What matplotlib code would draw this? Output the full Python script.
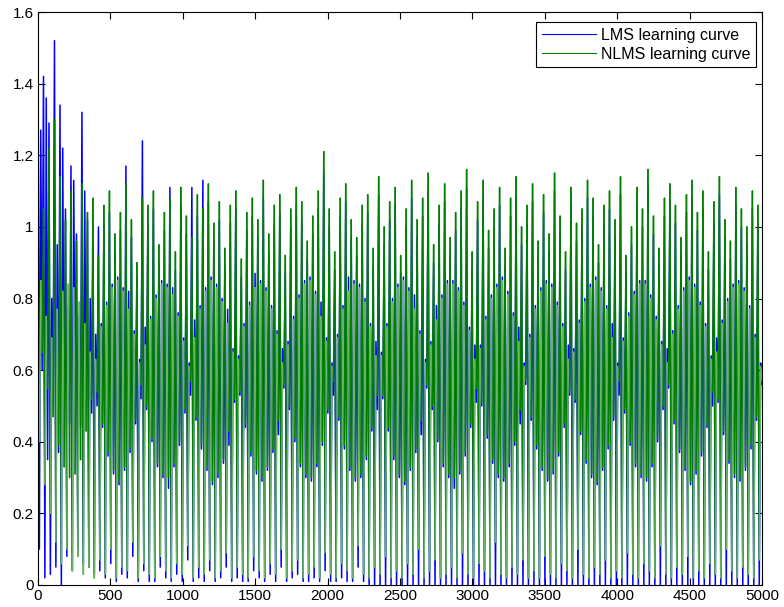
import matplotlib
matplotlib.use("Agg")
import matplotlib.pyplot as plt
import numpy as np
from matplotlib.collections import LineCollection
from matplotlib.lines import Line2D

plt.rcParams["font.family"] = ["Liberation Sans", "DejaVu Sans"]

# Learning curves stored as four interleaved vertex levels per cycle:
# high peak, low trough, inner high, inner low.
nlms_peak = [
    0.98, 1.05, 1.22, 1.30, 1.14, 1.02, 1.10, 0.96, 1.12, 1.04,
    1.08, 0.92, 1.06, 1.10, 0.98, 1.04, 1.12, 1.02, 0.90, 1.08,
    1.06, 1.10, 0.95, 1.04, 1.08, 0.93, 1.11, 1.03, 0.97, 1.09,
    1.05, 1.12, 1.01, 1.07, 0.94, 1.06, 1.10, 0.91, 1.04, 1.08,
    1.02, 1.13, 0.98, 1.06, 1.09, 0.92, 1.05, 1.11, 1.07, 0.96,
    1.03, 1.10, 1.21, 1.05, 0.93, 1.08, 1.12, 1.02, 0.97, 1.06,
    1.09, 0.94, 1.14, 1.00, 1.07, 1.11, 0.92, 1.05, 1.13, 1.02,
    1.08, 1.15, 0.95, 1.06, 1.12, 0.97, 1.04, 1.10, 1.16, 0.93,
    1.07, 1.13, 0.99, 1.05, 1.11, 0.94, 1.08, 1.14, 1.00, 1.06,
    1.12, 0.96, 1.09, 0.98, 1.15, 1.03, 0.93, 1.11, 1.01, 1.05,
    1.13, 1.08, 0.95, 1.06, 1.10, 1.02, 1.14, 0.92, 1.00, 1.11,
    1.05, 1.16, 1.03, 0.94, 1.08, 1.12, 1.06, 0.97, 1.09, 1.13,
    1.04, 1.10, 0.93, 1.07, 1.14, 1.02, 0.96, 1.11, 1.05, 1.00,
    1.10, 1.06,
]
nlms_trough = [
    0.40, 0.28, 0.20, 0.12, 0.06, 0.10, 0.04, 0.08, 0.03, 0.05,
    0.02, 0.07, 0.03, 0.10, 0.02, 0.05, 0.04, 0.12, 0.02, 0.06,
    0.03, 0.02, 0.08, 0.04, 0.02, 0.06, 0.03, 0.11, 0.02, 0.05,
    0.03, 0.07, 0.02, 0.04, 0.09, 0.02, 0.05, 0.03, 0.02, 0.08,
    0.04, 0.02, 0.06, 0.03, 0.10, 0.02, 0.04, 0.07, 0.02, 0.03,
    0.05, 0.02, 0.09, 0.03, 0.02, 0.06, 0.04, 0.02, 0.11, 0.03,
    0.02, 0.05, 0.03, 0.08, 0.02, 0.04, 0.02, 0.06, 0.03, 0.10,
    0.02, 0.04, 0.07, 0.02, 0.03, 0.05, 0.02, 0.09, 0.03, 0.02,
    0.06, 0.04, 0.02, 0.12, 0.03, 0.02, 0.05, 0.03, 0.07, 0.02,
    0.04, 0.02, 0.08, 0.03, 0.02, 0.06, 0.04, 0.02, 0.10, 0.03,
    0.02, 0.05, 0.03, 0.07, 0.02, 0.04, 0.02, 0.09, 0.03, 0.02,
    0.06, 0.04, 0.02, 0.11, 0.03, 0.02, 0.05, 0.03, 0.08, 0.02,
    0.04, 0.02, 0.06, 0.03, 0.02, 0.10, 0.04, 0.02, 0.05, 0.03,
    0.02, 0.07,
]
nlms_inner_high = [
    0.85, 0.75, 0.69, 0.77, 0.82, 0.84, 0.83, 0.79, 0.73, 0.65,
    0.63, 0.72, 0.78, 0.83, 0.85, 0.82, 0.77, 0.70, 0.62, 0.67,
    0.74, 0.80, 0.84, 0.83, 0.81, 0.75, 0.68, 0.61, 0.69, 0.77,
    0.82, 0.85, 0.83, 0.79, 0.73, 0.65, 0.63, 0.72, 0.78, 0.83,
    0.84, 0.82, 0.77, 0.70, 0.62, 0.67, 0.74, 0.80, 0.84, 0.85,
    0.81, 0.75, 0.68, 0.61, 0.69, 0.77, 0.82, 0.84, 0.83, 0.79,
    0.72, 0.64, 0.64, 0.72, 0.79, 0.83, 0.85, 0.82, 0.77, 0.70,
    0.62, 0.67, 0.74, 0.80, 0.84, 0.84, 0.82, 0.78, 0.71, 0.63,
    0.66, 0.74, 0.80, 0.83, 0.85, 0.81, 0.75, 0.68, 0.61, 0.69,
    0.77, 0.82, 0.84, 0.83, 0.78, 0.72, 0.63, 0.65, 0.73, 0.79,
    0.83, 0.85, 0.82, 0.77, 0.69, 0.61, 0.68, 0.75, 0.81, 0.84,
    0.84, 0.80, 0.74, 0.67, 0.62, 0.70, 0.77, 0.82, 0.85, 0.83,
    0.78, 0.72, 0.63, 0.65, 0.73, 0.79, 0.83, 0.84, 0.82, 0.77,
    0.69, 0.61,
]
nlms_inner_low = [
    0.65, 0.55, 0.47, 0.39, 0.33, 0.30, 0.31, 0.35, 0.43, 0.52,
    0.54, 0.45, 0.37, 0.32, 0.29, 0.33, 0.38, 0.46, 0.56, 0.50,
    0.41, 0.34, 0.31, 0.30, 0.34, 0.40, 0.49, 0.57, 0.47, 0.39,
    0.33, 0.29, 0.31, 0.35, 0.43, 0.52, 0.54, 0.45, 0.37, 0.32,
    0.30, 0.33, 0.38, 0.46, 0.56, 0.50, 0.41, 0.34, 0.31, 0.30,
    0.34, 0.40, 0.49, 0.57, 0.47, 0.39, 0.33, 0.30, 0.31, 0.36,
    0.44, 0.53, 0.53, 0.44, 0.36, 0.31, 0.29, 0.33, 0.38, 0.46,
    0.56, 0.50, 0.41, 0.34, 0.31, 0.30, 0.32, 0.37, 0.45, 0.55,
    0.51, 0.42, 0.35, 0.31, 0.30, 0.34, 0.40, 0.49, 0.57, 0.47,
    0.39, 0.33, 0.30, 0.32, 0.37, 0.45, 0.54, 0.52, 0.43, 0.35,
    0.31, 0.29, 0.33, 0.39, 0.47, 0.57, 0.49, 0.40, 0.34, 0.31,
    0.30, 0.34, 0.41, 0.50, 0.56, 0.46, 0.38, 0.33, 0.29, 0.32,
    0.37, 0.45, 0.54, 0.52, 0.43, 0.35, 0.31, 0.30, 0.33, 0.39,
    0.47, 0.57,
]

lms_peak = [
    1.54, 1.42, 1.29, 1.52, 1.34, 1.05, 1.17, 0.98, 1.32, 1.02,
    0.95, 1.00, 1.01, 1.04, 0.93, 0.99, 1.17, 0.97, 0.86, 1.24,
    1.01, 1.05, 0.90, 0.99, 1.11, 0.88, 1.06, 0.98, 1.11, 1.03,
    1.13, 1.07, 0.96, 1.02, 0.89, 1.01, 1.05, 0.86, 0.99, 1.03,
    0.97, 1.08, 0.93, 1.01, 1.04, 0.87, 1.00, 1.06, 1.02, 0.91,
    0.98, 1.05, 1.15, 1.00, 0.88, 1.03, 1.07, 0.97, 0.92, 1.01,
    1.04, 0.89, 1.09, 0.95, 1.02, 1.06, 0.87, 1.00, 1.08, 0.97,
    1.03, 1.10, 0.90, 1.01, 1.07, 0.92, 0.99, 1.05, 1.11, 0.88,
    1.02, 1.08, 0.94, 1.00, 1.06, 0.89, 1.03, 1.09, 0.95, 1.01,
    1.07, 0.91, 1.04, 0.93, 1.10, 0.98, 0.88, 1.06, 0.96, 1.00,
    1.08, 1.03, 0.90, 1.01, 1.05, 0.97, 1.09, 0.87, 0.95, 1.06,
    1.00, 1.11, 0.98, 0.89, 1.03, 1.07, 1.01, 0.92, 1.04, 1.08,
    0.99, 1.05, 0.88, 1.02, 1.09, 0.97, 0.91, 1.06, 1.00, 0.95,
    1.05, 1.01,
]
lms_trough = [
    0.10, 0.02, 0.03, 0.05, 0.00, 0.08, 0.04, 0.10, 0.06, 0.05,
    0.03, 0.04, 0.02, 0.06, 0.01, 0.03, 0.02, 0.08, 0.01, 0.04,
    0.01, 0.01, 0.05, 0.02, 0.01, 0.03, 0.01, 0.07, 0.01, 0.02,
    0.01, 0.04, 0.01, 0.02, 0.05, 0.01, 0.02, 0.01, 0.01, 0.04,
    0.02, 0.01, 0.03, 0.01, 0.05, 0.01, 0.02, 0.03, 0.01, 0.01,
    0.02, 0.01, 0.04, 0.01, 0.01, 0.02, 0.01, 0.01, 0.05, 0.01,
    0.00, 0.00, 0.00, 0.00, 0.00, 0.00, 0.00, 0.00, 0.00, 0.00,
    0.00, 0.00, 0.00, 0.00, 0.00, 0.00, 0.00, 0.00, 0.00, 0.00,
    0.00, 0.00, 0.00, 0.00, 0.00, 0.00, 0.00, 0.00, 0.00, 0.00,
    0.00, 0.00, 0.00, 0.00, 0.00, 0.00, 0.00, 0.00, 0.00, 0.00,
    0.00, 0.00, 0.00, 0.00, 0.00, 0.00, 0.00, 0.00, 0.00, 0.00,
    0.00, 0.00, 0.00, 0.00, 0.00, 0.00, 0.00, 0.00, 0.00, 0.00,
    0.00, 0.00, 0.00, 0.00, 0.00, 0.00, 0.00, 0.00, 0.00, 0.00,
    0.00, 0.00,
]
lms_inner_high = [
    1.27, 1.36, 0.80, 0.95, 1.22, 0.78, 1.13, 0.75, 1.10, 0.80,
    0.70, 0.73, 0.79, 0.84, 0.86, 0.83, 0.82, 0.71, 0.63, 0.72,
    0.75, 0.81, 0.85, 0.84, 0.83, 0.76, 0.69, 0.62, 0.74, 0.78,
    0.83, 0.86, 0.84, 0.80, 0.77, 0.66, 0.64, 0.73, 0.79, 0.87,
    0.85, 0.83, 0.78, 0.71, 0.66, 0.68, 0.75, 0.81, 0.85, 0.86,
    0.82, 0.79, 0.69, 0.62, 0.70, 0.78, 0.86, 0.85, 0.84, 0.80,
    0.73, 0.68, 0.65, 0.73, 0.80, 0.84, 0.86, 0.83, 0.81, 0.71,
    0.63, 0.68, 0.78, 0.81, 0.85, 0.85, 0.83, 0.79, 0.72, 0.67,
    0.67, 0.75, 0.81, 0.84, 0.86, 0.82, 0.76, 0.72, 0.62, 0.70,
    0.78, 0.83, 0.85, 0.84, 0.79, 0.73, 0.67, 0.66, 0.74, 0.80,
    0.84, 0.86, 0.83, 0.78, 0.73, 0.62, 0.69, 0.76, 0.82, 0.85,
    0.85, 0.81, 0.75, 0.68, 0.66, 0.71, 0.78, 0.83, 0.86, 0.84,
    0.79, 0.73, 0.64, 0.69, 0.74, 0.80, 0.84, 0.85, 0.83, 0.78,
    0.70, 0.62,
]
lms_inner_low = [
    0.60, 0.35, 0.50, 0.37, 0.42, 0.45, 0.55, 0.44, 0.50, 0.48,
    0.50, 0.44, 0.36, 0.31, 0.28, 0.32, 0.37, 0.45, 0.52, 0.49,
    0.40, 0.33, 0.30, 0.27, 0.33, 0.39, 0.48, 0.53, 0.46, 0.38,
    0.32, 0.28, 0.30, 0.34, 0.39, 0.51, 0.53, 0.44, 0.36, 0.31,
    0.29, 0.32, 0.37, 0.42, 0.55, 0.49, 0.40, 0.33, 0.30, 0.29,
    0.33, 0.39, 0.48, 0.53, 0.46, 0.38, 0.32, 0.29, 0.30, 0.35,
    0.43, 0.49, 0.52, 0.43, 0.35, 0.30, 0.28, 0.32, 0.37, 0.42,
    0.55, 0.49, 0.40, 0.33, 0.30, 0.27, 0.31, 0.36, 0.44, 0.51,
    0.50, 0.41, 0.34, 0.30, 0.29, 0.33, 0.39, 0.45, 0.56, 0.46,
    0.38, 0.32, 0.29, 0.31, 0.36, 0.44, 0.53, 0.51, 0.42, 0.34,
    0.30, 0.28, 0.32, 0.38, 0.46, 0.53, 0.48, 0.39, 0.33, 0.30,
    0.29, 0.33, 0.40, 0.49, 0.55, 0.45, 0.37, 0.32, 0.28, 0.31,
    0.36, 0.44, 0.50, 0.51, 0.42, 0.34, 0.30, 0.29, 0.32, 0.38,
    0.46, 0.56,
]

n_iter = 5000
x_ticks = [0, 500, 1000, 1500, 2000, 2500, 3000, 3500, 4000, 4500, 5000]
y_ticks = [0, 0.2, 0.4, 0.6, 0.8, 1.0, 1.2, 1.4, 1.6]
y_tick_labels = ["0", "0.2", "0.4", "0.6", "0.8", "1", "1.2", "1.4", "1.6"]
labels = ["LMS learning curve", "NLMS learning curve"]

LMS_BLUE = (0, 0, 1)
NLMS_GREEN = (0, 0.5, 0)
NLMS_PALE = (0.42, 0.71, 0.42)   # thin, steep strokes render washed out


def interleave(*levels):
    return np.column_stack([np.asarray(v, dtype=float) for v in levels]).ravel()


def segments(x, y):
    pts = np.column_stack([x, y])
    return np.stack([pts[:-1], pts[1:]], axis=1)


nlms = interleave(nlms_peak, nlms_trough, nlms_inner_high, nlms_inner_low)
lms = interleave(lms_peak, lms_trough, lms_inner_high, lms_inner_low)
n_axis = np.linspace(0, n_iter, len(nlms))

fig = plt.figure(figsize=(7.84, 6.07), dpi=100)
ax = fig.add_axes([38 / 784, 22 / 607, 724 / 784, 573 / 607])

ax.plot(n_axis, lms, color=LMS_BLUE, lw=1.1)

# outer strokes in full green, inner strokes of each cycle paler
nlms_segs = segments(n_axis, nlms)
tones = [NLMS_GREEN, NLMS_PALE, NLMS_PALE, NLMS_GREEN]
seg_colors = [tones[i % 4] for i in range(len(nlms_segs))]
ax.add_collection(LineCollection(nlms_segs, colors=seg_colors,
                                 linewidths=1.1, capstyle="round"))

ax.set_xlim(0, n_iter)
ax.set_ylim(0, 1.6)
ax.set_xticks(x_ticks)
ax.set_yticks(y_ticks)
ax.set_yticklabels(y_tick_labels)
ax.tick_params(direction="in", top=True, right=True, length=5, width=0.8,
               labelsize=11, pad=3)
for sp in ax.spines.values():
    sp.set_linewidth(0.8)

handles = [Line2D([], [], color=LMS_BLUE, lw=0.8),
           Line2D([], [], color=NLMS_GREEN, lw=0.8)]
leg = ax.legend(handles, labels, loc="upper right",
                bbox_to_anchor=(0.9917, 0.9825),
                borderaxespad=0, fontsize=11.5, handlelength=3.4,
                handletextpad=0.3, labelspacing=0.25, borderpad=0.35,
                fancybox=False, framealpha=1)
leg.get_frame().set_edgecolor("black")
leg.get_frame().set_linewidth(0.8)

fig.savefig("out.png", dpi=100)
